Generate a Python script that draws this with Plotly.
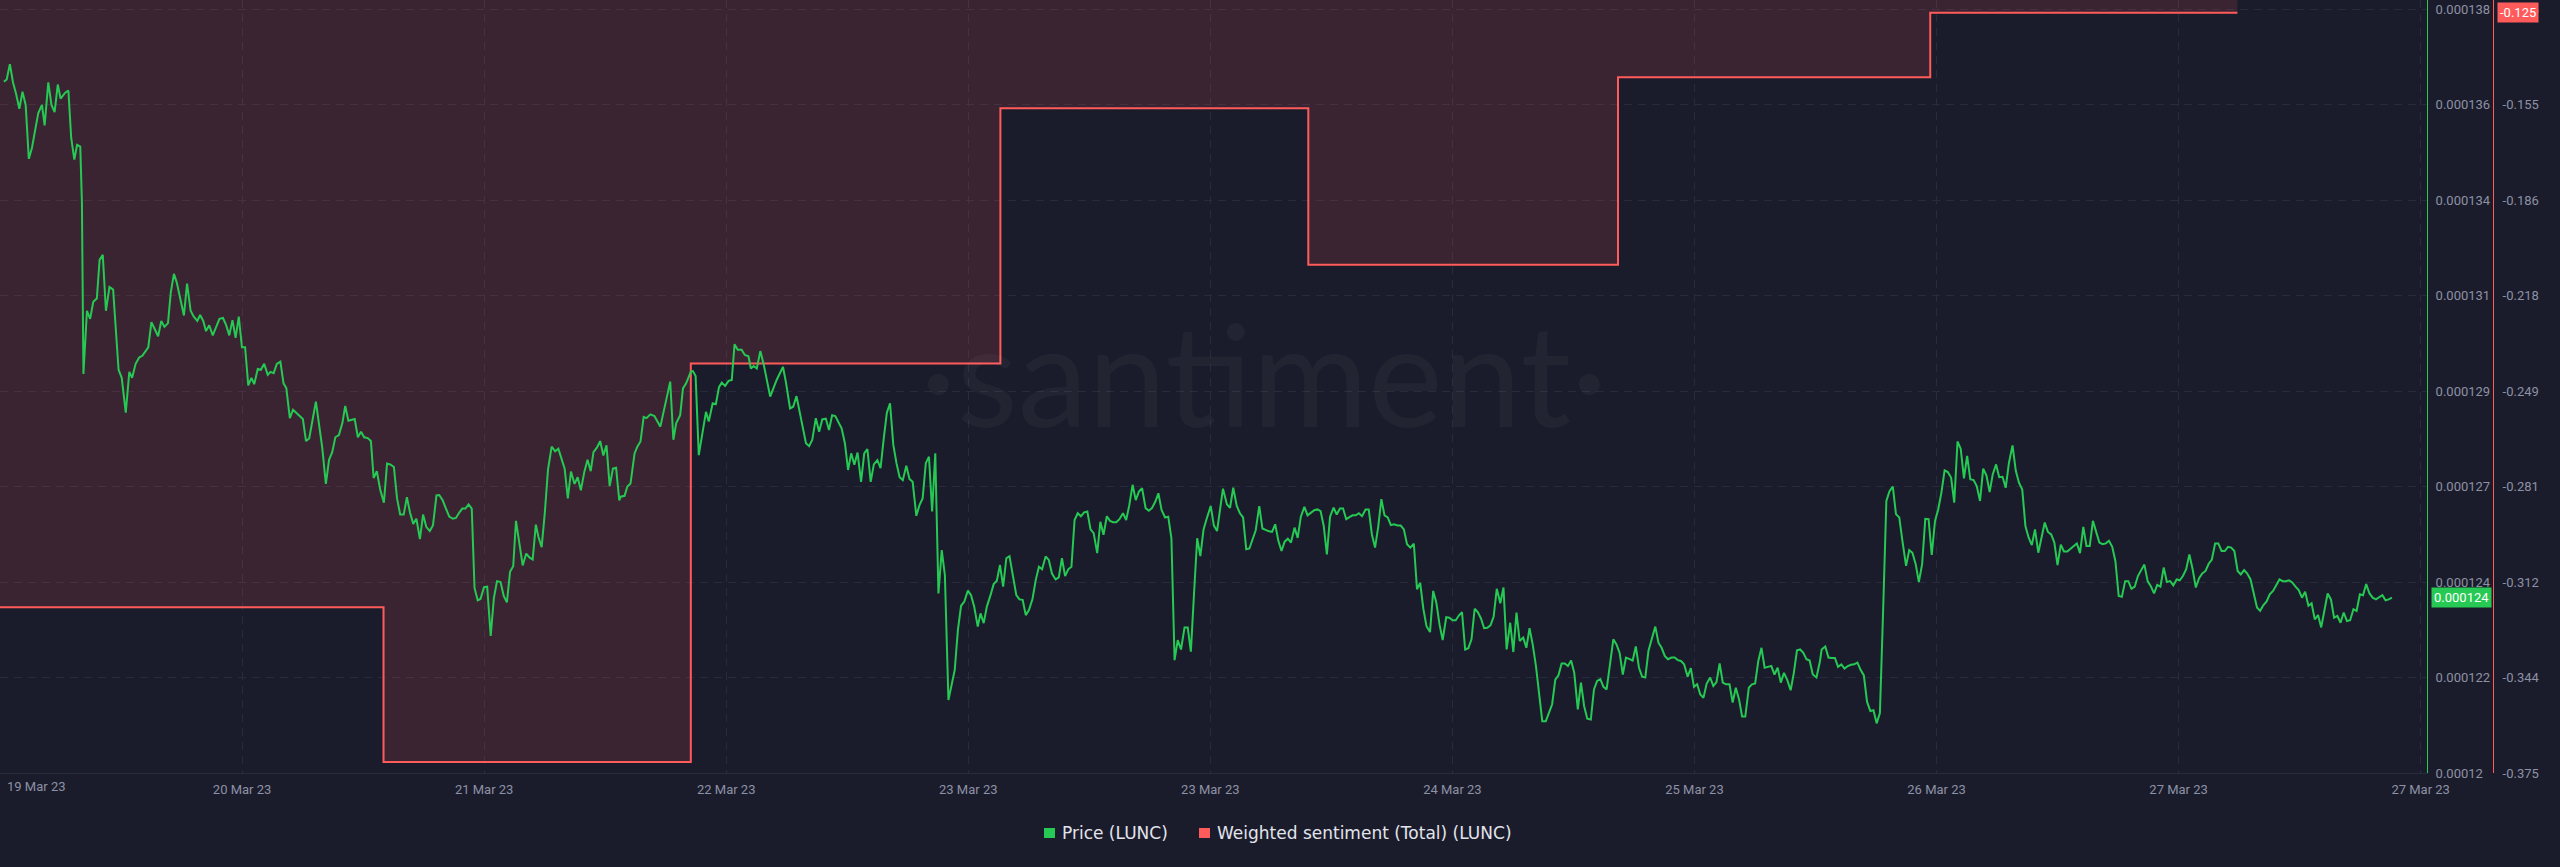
import plotly.graph_objects as go
import pandas as pd

# ---------------- data ----------------
START = pd.Timestamp("2023-03-19 21:00")
SPAN_HOURS = 192

# price of LUNC, hours after START / price in 1e-6 USD
price_hours = [
 0.31,0.53,0.78,1.03,1.25,1.53,1.78,2.03,2.28,2.53,2.82,3.03,3.32,3.53,3.82,4.07,4.32,4.57,4.79,5.16,
 5.41,5.63,5.88,6.10,6.35,6.48,6.60,6.88,7.13,7.38,7.66,7.88,8.13,8.38,8.66,8.95,9.38,9.63,9.95,10.23,
 10.45,10.73,11.01,11.26,11.73,11.98,12.51,12.76,13.01,13.29,13.51,13.76,13.98,14.23,14.55,14.80,15.08,15.33,15.61,15.83,
 16.08,16.30,16.55,16.83,17.08,17.36,17.64,17.89,18.14,18.39,18.64,18.89,19.14,19.39,19.64,19.89,20.11,20.39,20.64,20.90,
 21.18,21.40,21.65,21.90,22.18,22.43,22.65,22.93,23.18,23.43,23.96,24.21,24.46,24.99,25.27,25.49,25.78,26.03,26.28,26.53,
 26.81,27.09,27.31,27.56,28.06,28.31,28.56,28.81,29.09,29.34,29.56,29.81,30.09,30.37,30.62,30.87,31.16,31.41,31.66,31.94,
 32.19,32.44,32.69,32.94,33.22,33.47,33.72,34.00,34.25,34.53,34.75,35.03,35.28,35.54,35.82,36.07,36.32,36.57,36.82,37.07,
 37.32,37.54,37.79,38.01,38.29,38.54,38.82,39.07,39.32,39.60,39.85,40.10,40.35,40.60,40.82,41.10,41.35,41.63,41.88,42.14,
 42.39,42.60,42.85,43.10,43.35,43.64,43.92,44.17,44.42,44.67,44.92,45.17,45.45,45.70,45.95,46.23,46.48,46.73,46.95,47.23,
 47.48,47.73,47.98,48.23,48.49,48.74,48.99,
 49.10,49.41,49.63,49.88,50.20,50.42,50.67,50.92,51.14,51.45,51.77,52.24,52.55,53.02,53.27,53.49,53.81,54.03,54.28,54.66,
 54.81,55.03,55.28,55.60,55.85,56.07,56.38,56.63,56.88,57.10,57.36,57.64,57.89,58.11,58.36,58.67,58.92,59.21,59.40,59.62,
 59.87,60.15,60.40,60.93,61.44,61.94,62.19,62.50,62.75,63.01,63.29,63.57,63.76,64.01,64.26,64.54,64.80,65.05,65.33,65.58,
 65.83,66.08,66.33,66.58,66.84,67.09,67.34,67.59,67.84,68.12,68.37,68.62,68.88,69.13,69.41,69.66,69.91,70.16,70.41,70.67,
 70.92,71.17,71.42,71.70,71.95,72.20,72.49,72.74,72.99,73.24,73.49,73.74,73.99,74.24,74.50,74.75,75.03,75.28,75.53,75.78,
 76.03,76.29,76.57,76.82,77.07,77.35,77.57,77.82,78.07,78.36,78.61,78.86,79.11,79.36,79.61,79.86,80.15,80.40,80.65,80.90,
 81.15,81.40,81.68,81.94,82.19,82.44,82.72,82.97,83.22,83.51,83.76,84.01,84.26,84.51,84.76,85.01,85.26,85.51,85.77,86.02,
 86.27,86.52,86.80,87.05,87.30,87.56,87.81,88.06,88.31,88.56,88.84,89.09,89.34,89.60,89.85,90.10,90.35,90.63,90.88,91.13,
 91.39,91.64,91.89,92.17,92.42,92.67,92.92,93.17,93.43,93.71,93.96,94.21,94.46,94.71,94.96,95.21,95.47,
 95.78,96.03,96.28,96.75,97.06,97.31,97.56,97.84,98.09,98.34,98.59,98.84,99.34,99.62,99.87,100.34,100.63,100.88,101.13,101.38,
 101.63,101.88,102.13,102.41,102.66,102.91,103.19,103.44,103.69,103.97,104.22,104.47,104.72,104.97,105.22,105.50,105.75,106.00,106.25,106.50,
 106.75,107.00,107.25,107.50,107.75,108.03,108.28,108.53,108.78,109.03,109.28,109.53,109.78,110.03,110.28,110.56,110.81,111.06,111.31,111.57,
 111.85,112.10,112.35,112.60,112.85,113.13,113.38,113.63,113.88,114.13,114.41,114.66,114.91,115.16,115.41,115.66,115.91,116.16,116.41,116.66,
 116.91,117.16,117.41,117.66,117.91,118.16,118.41,118.69,118.94,119.19,119.47,119.72,119.97,120.22,120.50,120.75,121.00,121.25,121.51,121.76,
 122.01,122.29,122.54,122.79,123.04,123.29,123.54,123.79,124.04,124.29,124.54,124.82,125.07,125.32,125.57,125.85,126.10,126.35,126.60,126.85,
 127.10,127.35,127.63,127.88,128.13,128.38,128.63,128.88,129.16,129.41,129.66,129.91,130.16,130.41,130.70,130.95,131.20,131.45,131.70,131.95,
 132.23,132.48,132.73,132.98,133.23,133.51,133.76,134.01,134.26,134.51,134.76,135.01,135.29,135.54,135.79,136.04,136.29,136.54,136.82,137.07,
 137.32,137.57,137.82,138.07,138.35,138.60,138.85,139.10,139.35,139.60,139.85,140.13,140.38,140.63,140.88,141.13,141.38,141.66,141.91,142.16,
 142.41,142.66,142.91,143.16,143.41,143.70,143.98,
 144.11,144.40,144.65,144.90,145.16,145.41,145.67,145.92,146.18,146.43,146.68,146.94,147.19,147.45,147.70,147.96,148.21,148.46,148.72,148.97,
 149.23,149.48,149.74,149.99,150.25,150.50,150.79,151.04,151.29,151.55,151.80,152.06,152.31,152.57,152.82,153.08,153.33,153.58,153.84,154.09,
 154.35,154.60,154.86,155.11,155.37,155.62,155.87,156.13,156.38,156.64,156.89,157.15,157.40,157.65,157.91,158.16,158.42,158.67,158.93,159.21,
 159.47,159.72,159.98,160.23,160.48,160.74,160.99,161.25,161.50,161.76,162.01,162.27,162.52,162.77,163.03,163.28,163.54,163.79,164.05,164.30,
 164.55,164.81,165.06,165.32,165.57,165.83,166.08,166.34,166.59,166.84,167.10,167.35,167.61,167.86,168.12,168.37,168.62,168.88,169.13,169.39,
 169.64,169.90,170.15,170.41,170.66,170.91,171.17,171.42,171.68,171.93,172.19,172.44,172.69,172.95,173.20,173.46,173.71,173.97,174.22,174.48,
 174.73,174.98,175.24,175.49,175.75,176.00,176.26,176.51,176.76,177.02,177.27,177.53,177.78,178.04,178.29,178.55,178.80,179.05,179.31,179.56,
 179.82,180.07,180.33,180.58,180.84,181.09,181.34,181.60,181.85,182.11,182.36,182.62,182.87,183.12,183.38,183.63,183.89,184.14,184.40,184.65,
 184.91,185.16,185.41,185.67,185.92,186.18,186.43,186.69,186.94,187.19,187.45,187.70,187.96,188.21,188.47,188.72,188.97,189.23,
]
price_e6 = [
 136.29,136.34,136.70,136.27,136.03,135.65,136.05,135.74,134.47,134.73,135.21,135.55,135.74,135.26,136.27,135.74,135.57,136.22,135.89,136.03,
 136.08,134.97,134.45,134.80,134.76,133.44,129.40,130.89,130.70,131.10,131.18,132.09,132.21,130.89,131.45,131.39,129.50,129.31,128.49,129.45,
 129.31,129.64,129.79,129.83,130.03,130.62,130.29,130.65,130.51,130.60,131.32,131.76,131.56,131.23,130.78,131.53,130.89,130.75,130.65,130.79,
 130.65,130.41,130.55,130.31,130.51,130.70,130.72,130.55,130.31,130.67,130.25,130.75,130.03,130.03,129.13,129.31,129.16,129.52,129.50,129.64,
 129.38,129.45,129.42,129.64,129.69,129.18,129.07,128.36,128.56,128.49,128.34,127.82,127.88,128.75,128.15,127.67,126.81,127.38,127.56,127.91,
 127.96,128.25,128.65,128.30,128.34,127.91,128.04,127.91,127.89,127.82,126.95,127.11,126.66,126.37,127.29,127.27,127.21,126.47,126.09,126.09,
 126.50,126.13,125.87,125.99,125.51,126.09,125.80,125.70,125.83,126.54,126.55,126.42,126.23,126.04,125.99,126.01,126.13,126.23,126.23,126.33,
 126.23,124.36,124.07,124.10,124.38,124.39,123.23,124.12,124.52,124.50,124.17,124.02,124.74,124.87,125.94,125.37,124.89,125.17,125.08,125.03,
 125.85,125.56,125.32,126.13,127.14,127.69,127.58,127.64,127.38,127.17,126.47,127.10,126.81,126.97,126.66,127.10,127.38,127.11,127.56,127.67,
 127.82,127.48,127.72,126.76,127.17,127.19,126.42,
 126.51,126.53,126.75,126.82,127.53,127.69,127.81,128.39,128.36,128.45,128.41,128.16,128.55,129.22,127.85,128.24,128.43,129.06,129.18,129.46,
 129.47,129.35,127.49,128.04,128.51,128.28,128.71,128.69,129.09,129.20,129.12,129.24,129.26,130.10,129.97,129.97,129.85,129.82,129.53,129.59,
 129.53,129.94,129.65,128.87,129.26,129.57,129.18,128.59,128.63,128.88,128.47,128.10,127.77,127.70,127.85,128.36,128.04,128.33,128.35,128.08,
 128.43,128.41,128.28,128.12,127.77,127.14,127.53,127.26,127.55,126.86,127.53,127.63,126.86,127.27,127.37,127.18,127.88,128.49,128.71,127.73,
 127.30,126.97,126.90,127.24,126.93,126.86,126.06,126.31,126.47,127.30,127.45,126.16,127.53,124.23,125.25,124.66,121.72,122.11,122.43,123.37,
 123.94,124.04,124.30,124.19,123.92,123.45,123.76,123.53,123.92,124.19,124.45,124.53,124.90,124.39,125.06,125.11,124.59,124.19,124.09,124.08,
 123.72,123.84,124.10,124.55,124.86,124.80,125.10,125.02,124.70,124.56,124.61,125.06,124.64,124.80,124.86,125.96,126.12,126.05,126.14,126.16,
 125.74,125.65,125.18,125.92,125.61,126.05,125.94,125.91,125.91,125.98,126.12,125.96,126.31,126.79,126.43,126.63,126.71,126.24,126.18,126.24,
 126.39,126.59,126.20,126.02,126.04,125.53,122.66,123.13,122.91,123.43,123.43,122.86,124.23,125.53,125.11,125.73,126.00,
 126.29,125.83,125.70,126.70,126.33,126.25,126.72,126.29,126.12,126.02,125.27,125.29,125.72,126.29,125.76,125.70,125.68,125.86,125.47,125.23,
 125.45,125.52,125.43,125.78,125.54,126.04,126.27,126.07,126.12,126.19,126.21,126.17,125.82,125.15,126.04,126.25,126.09,126.23,126.23,125.98,
 126.03,126.07,126.07,126.12,126.05,126.21,126.21,125.62,125.31,125.80,126.45,126.07,126.02,125.84,125.86,125.83,125.83,125.74,125.39,125.31,
 125.40,124.33,124.48,123.87,123.46,123.32,124.29,124.01,123.50,123.13,123.67,123.66,123.60,123.60,123.71,123.79,122.91,122.94,123.15,123.87,
 123.79,123.64,123.41,123.42,123.48,123.68,124.34,124.00,124.37,122.91,123.54,122.85,123.78,123.11,123.19,122.95,123.41,123.03,122.52,121.93,
 121.22,121.22,121.42,121.62,122.20,122.30,122.58,122.58,122.52,122.65,122.36,121.50,122.13,121.58,121.28,121.26,121.97,122.17,122.21,122.03,
 121.97,122.52,123.15,123.03,122.83,122.32,122.72,122.69,122.65,122.98,122.48,122.27,122.25,122.88,123.19,123.45,123.07,122.95,122.76,122.68,
 122.72,122.72,122.66,122.64,122.56,122.27,122.47,122.03,122.09,121.85,121.77,122.10,122.25,122.05,122.14,122.58,122.13,122.09,122.09,121.66,
 122.01,121.74,121.33,121.33,122.01,122.09,122.11,122.64,122.95,122.48,122.50,122.52,122.32,122.48,122.13,122.36,122.20,121.95,122.36,122.89,
 122.91,122.83,122.68,122.65,122.32,122.25,122.64,
 122.91,122.98,122.72,122.71,122.71,122.50,122.56,122.46,122.52,122.55,122.56,122.60,122.43,122.30,121.68,121.46,121.48,121.17,121.41,123.78,
 126.41,126.64,126.75,126.10,126.02,125.47,124.88,125.25,125.19,124.92,124.50,124.92,125.99,125.98,125.14,125.94,126.21,126.60,127.13,127.09,
 126.96,126.37,127.81,127.64,126.94,127.47,126.92,126.90,126.76,126.41,127.17,127.01,126.62,127.04,127.27,126.97,126.98,126.72,127.31,127.72,
 127.12,126.84,126.68,125.82,125.55,125.37,125.74,125.19,125.57,125.90,125.68,125.62,125.43,124.90,125.38,125.22,125.22,125.29,125.35,125.41,
 125.18,125.80,125.35,125.35,125.94,125.70,125.43,125.39,125.41,125.47,125.33,124.99,124.17,124.15,124.52,124.52,124.34,124.39,124.64,124.78,
 124.91,124.52,124.40,124.23,124.43,124.39,124.84,124.50,124.52,124.42,124.56,124.54,124.64,124.80,125.15,124.80,124.37,124.59,124.70,124.76,
 124.93,125.03,125.41,125.41,125.23,125.23,125.33,125.31,125.23,124.76,124.68,124.78,124.70,124.56,124.27,123.90,123.82,123.95,124.04,124.21,
 124.29,124.43,124.56,124.52,124.52,124.54,124.49,124.39,124.31,124.13,124.27,123.94,124.00,123.62,123.72,123.43,123.84,124.23,124.09,123.66,
 123.70,123.54,123.78,123.58,123.60,123.86,123.82,124.21,124.19,124.45,124.23,124.13,124.09,124.13,124.19,124.07,124.09,124.13,
]

# weighted sentiment (daily, step)
sent_hours = [-3.0, 30.34, 54.65, 79.14, 103.50, 128.00, 152.70, 177.00]
sent_values = [-0.3208, -0.3714, -0.2410, -0.1575, -0.2087, -0.1473, -0.1262, -0.1262]

x_tick_hours = [19.15 * k for k in range(11)]
x_tick_labels = ["19 Mar 23", "20 Mar 23", "21 Mar 23", "22 Mar 23", "23 Mar 23", "23 Mar 23",
                 "24 Mar 23", "25 Mar 23", "26 Mar 23", "27 Mar 23", "27 Mar 23"]
price_ticks = [0.00012 + k * 0.00000225 for k in range(9)]
price_tick_labels = ["0.00012", "0.000122", "0.000124", "0.000127", "0.000129",
                     "0.000131", "0.000134", "0.000136", "0.000138"]
sent_ticks = [-0.375 + k * 0.03125 for k in range(9)]
sent_tick_labels = ["-0.375", "-0.344", "-0.312", "-0.281", "-0.249",
                    "-0.218", "-0.186", "-0.155", "-0.125"]
sent_badge = "-0.125"

# ---------------- styling ----------------
W, H = 2560, 867
PLOT_R, PLOT_B = 2427, 773          # plot area right edge / bottom (px)
TICK_TOP, TICK_BOT = 9, 773          # pixel rows of the top / bottom tick
BG = "#1b1c2b"
GRID = "#282b3c"
GREEN = "#26c953"
RED = "#ff5b5b"
TICK_COLOR = "#8c91a5"
FONT = "Roboto, Liberation Sans, Arial, sans-serif"
LEGEND_FONT = "DejaVu Sans, Open Sans, sans-serif"


def px(x):
    return x / W


def py(y):
    return (PLOT_B - y) / PLOT_B


def extend_top(lo, hi):
    """axis range so that `hi` sits TICK_TOP px below the top of the plot area"""
    per_px = (hi - lo) / (TICK_BOT - TICK_TOP)
    return [lo, hi + TICK_TOP * per_px]


price_times = [START + pd.Timedelta(hours=h) for h in price_hours]
price_usd = [v * 1e-6 for v in price_e6]
sent_times = [START + pd.Timedelta(hours=h) for h in sent_hours]
x_ticks = [START + pd.Timedelta(hours=h) for h in x_tick_hours]

fig = go.Figure()
# baseline for the sentiment area (value 0, above the visible range)
fig.add_trace(go.Scatter(x=sent_times, y=[0.0] * len(sent_times), yaxis="y",
                         mode="lines", line=dict(width=0, shape="hv"),
                         hoverinfo="skip", showlegend=False))
fig.add_trace(go.Scatter(x=sent_times, y=sent_values, yaxis="y", mode="lines",
                         name="Weighted sentiment (Total) (LUNC)",
                         line=dict(color=RED, width=2, shape="hv"),
                         fill="tonexty", fillcolor="rgba(255,88,100,0.14)"))
fig.add_trace(go.Scatter(x=price_times, y=price_usd, yaxis="y2", mode="lines",
                         name="Price (LUNC)", line=dict(color=GREEN, width=2)))

tickfont = dict(family=FONT, size=13, color=TICK_COLOR)

fig.update_layout(
    template="none",
    width=W, height=H,
    paper_bgcolor=BG, plot_bgcolor=BG,
    margin=dict(l=0, r=0, t=0, b=H - PLOT_B, pad=0),
    showlegend=False,
    font=dict(family=FONT, color=TICK_COLOR),
    xaxis=dict(
        domain=[0, PLOT_R / W], type="date",
        range=[START, START + pd.Timedelta(hours=SPAN_HOURS)],
        tickmode="array", tickvals=x_ticks[1:], ticktext=x_tick_labels[1:],
        showgrid=True, gridcolor=GRID, griddash="8px,6px", gridwidth=1,
        showline=True, linecolor=GRID, linewidth=1,
        zeroline=False, ticks="", tickfont=tickfont, ticklabelstandoff=4,
    ),
    yaxis=dict(
        range=extend_top(-0.375, -0.125), anchor="free", position=2493 / W, side="right",
        tickmode="array", tickvals=sent_ticks, ticktext=sent_tick_labels,
        showgrid=False, zeroline=False, showline=True, linecolor=RED, linewidth=1,
        ticks="", tickfont=tickfont, ticklabelstandoff=6,
    ),
    yaxis2=dict(
        range=extend_top(0.00012, 0.000138), overlaying="y", anchor="x", side="right",
        tickmode="array", tickvals=price_ticks, ticktext=price_tick_labels,
        showgrid=True, gridcolor=GRID, griddash="8px,6px", gridwidth=1,
        zeroline=False, showline=True, linecolor=GREEN, linewidth=1,
        ticks="", tickfont=tickfont, ticklabelstandoff=5,
    ),
)

annotations = [
    # first date label, kept inside the plot
    dict(x=px(5), y=py(786), xref="paper", yref="paper", xanchor="left", yanchor="middle",
         text=x_tick_labels[0], showarrow=False, font=tickfont),
    # watermark
    dict(x=px(1264), y=py(372), xref="paper", yref="paper", xanchor="center", yanchor="middle",
         text="·santiment·", showarrow=False,
         font=dict(family="Lato, Open Sans, sans-serif", size=141, color="rgba(255,255,255,0.035)")),
    # last value badges
    dict(x=px(2431), y=price_usd[-1], xref="paper", yref="y2", xanchor="left", yanchor="middle",
         text=f"{price_usd[-1]:.6f}", showarrow=False, bgcolor=GREEN, borderpad=2,
         font=dict(family=FONT, size=13, color="#ffffff")),
    dict(x=px(2497), y=sent_values[-1], xref="paper", yref="y", xanchor="left", yanchor="middle",
         text=sent_badge, showarrow=False, bgcolor=RED, borderpad=2,
         font=dict(family=FONT, size=13, color="#ffffff")),
    # legend texts
    dict(x=px(1060), y=py(833), xref="paper", yref="paper", xanchor="left", yanchor="middle",
         text="Price (LUNC)", showarrow=False,
         font=dict(family=LEGEND_FONT, size=17, color="#e2e4ec")),
    dict(x=px(1215), y=py(833), xref="paper", yref="paper", xanchor="left", yanchor="middle",
         text="Weighted sentiment (Total) (LUNC)", showarrow=False,
         font=dict(family=LEGEND_FONT, size=17, color="#e2e4ec")),
]
shapes = [
    dict(type="rect", xref="paper", yref="paper", x0=px(1044), x1=px(1055), y0=py(838), y1=py(828),
         fillcolor=GREEN, line=dict(width=0)),
    dict(type="rect", xref="paper", yref="paper", x0=px(1199), x1=px(1210), y0=py(838), y1=py(828),
         fillcolor=RED, line=dict(width=0)),
]
fig.update_layout(annotations=annotations, shapes=shapes)

fig.write_html("out.html", include_plotlyjs=True, full_html=True,
               config={"displayModeBar": False},
               post_script="document.body.style.margin='0';document.body.style.overflow='hidden';"
                           "document.body.style.background='#1b1c2b';")
